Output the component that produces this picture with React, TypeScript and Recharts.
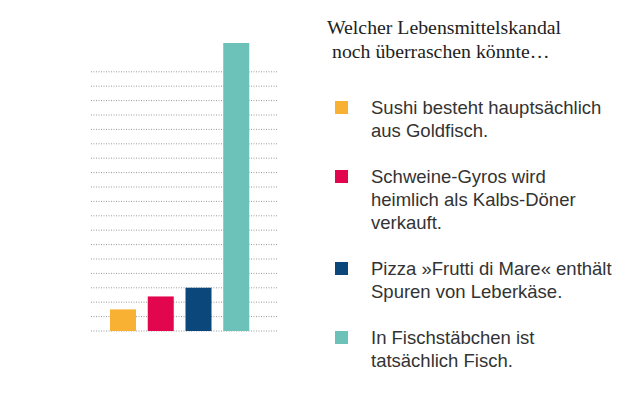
import { BarChart, Bar, Cell, XAxis, YAxis, CartesianGrid } from 'recharts'

const categories = [
  'Sushi besteht hauptsächlich aus Goldfisch.',
  'Schweine-Gyros wird heimlich als Kalbs-Döner verkauft.',
  'Pizza »Frutti di Mare« enthält Spuren von Leberkäse.',
  'In Fischstäbchen ist tatsächlich Fisch.',
]
const legendLines = [
  ['Sushi besteht hauptsächlich', 'aus Goldfisch.'],
  ['Schweine-Gyros wird', 'heimlich als Kalbs-Döner', 'verkauft.'],
  ['Pizza »Frutti di Mare« enthält', 'Spuren von Leberkäse.'],
  ['In Fischstäbchen ist', 'tatsächlich Fisch.'],
]
const values = [1.5, 2.4, 3, 20]
const colors = ['#f8b133', '#e2064f', '#0c477b', '#6cc1b8']
const gridTicks = [0, 1, 2, 3, 4, 5, 6, 7, 8, 9, 10, 11, 12, 13, 14, 15, 16, 17, 18]
const titleLines = ['Welcher Lebensmittelskandal', 'noch überraschen könnte…']

const data = categories.map((name, i) => ({ name, value: values[i] }))

export default function App() {
  return (
    <div style={{ position: 'relative', width: 640, height: 397, background: '#fff' }}>
      <style>{`body{margin:0}`}</style>
      <BarChart width={640} height={397} data={data} margin={{ top: 43, right: 362, bottom: 66, left: 91 }}>
        <CartesianGrid
          vertical={false}
          stroke="#9a9a9a"
          strokeDasharray="1 1.5"
          horizontalValues={gridTicks}
        />
        <XAxis dataKey="name" hide padding={{ left: 13, right: 23 }} />
        <YAxis
          width={0}
          domain={[0, 20]}
          ticks={gridTicks}
          interval={0}
          tick={{ fill: 'transparent', fontSize: 1 }}
          tickLine={false}
          axisLine={false}
        />
        <Bar dataKey="value" barSize={26} isAnimationActive={false}>
          {data.map((d, i) => (
            <Cell key={d.name} fill={colors[i]} />
          ))}
        </Bar>
      </BarChart>

      {/* title */}
      <div
        style={{
          position: 'absolute',
          left: 327,
          top: 15,
          fontFamily: '"Liberation Serif", serif',
          fontSize: 19.8,
          lineHeight: '24px',
          color: '#222',
          whiteSpace: 'nowrap',
        }}
      >
        <div>{titleLines[0]}</div>
        <div style={{ marginLeft: 5 }}>{titleLines[1]}</div>
      </div>

      {/* legend */}
      <div style={{ position: 'absolute', left: 335, top: 96, width: 300 }}>
        {legendLines.map((lines, i) => (
          <div key={i} style={{ display: 'flex', marginBottom: 23 }}>
            <div style={{ width: 13, height: 13, background: colors[i], marginTop: 5, marginRight: 23, flexShrink: 0 }} />
            <div
              style={{
                fontFamily: 'Arial, "Liberation Sans", sans-serif',
                fontSize: 18.5,
                lineHeight: '23px',
                color: '#333',
                whiteSpace: 'nowrap',
              }}
            >
              {lines.map((l, j) => (
                <div key={j}>{l}</div>
              ))}
            </div>
          </div>
        ))}
      </div>
    </div>
  )
}
